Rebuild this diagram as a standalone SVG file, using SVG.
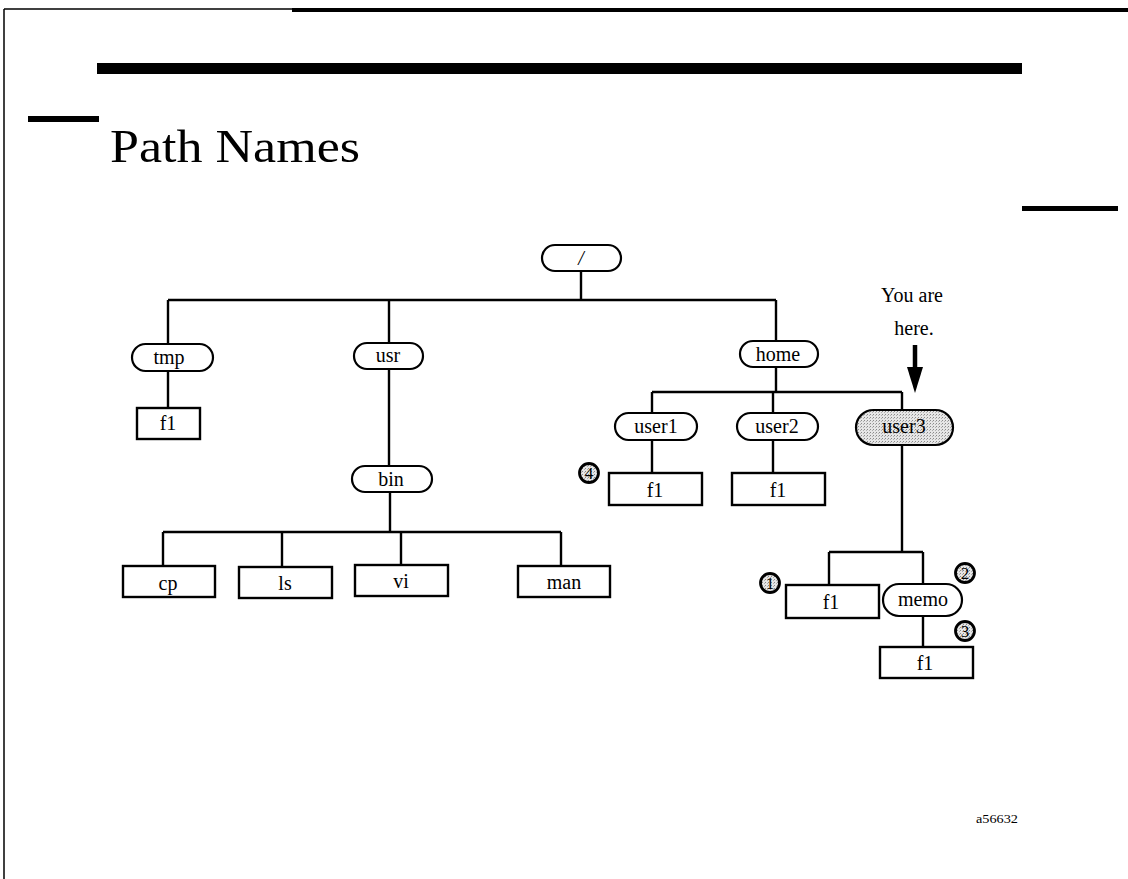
<svg xmlns="http://www.w3.org/2000/svg" width="1128" height="879" viewBox="0 0 1128 879">
  <defs>
    <pattern id="stipple" width="3" height="3" patternUnits="userSpaceOnUse">
      <rect width="3" height="3" fill="#e6e6e6"/>
      <rect x="0" y="0" width="1" height="1" fill="#8a8a8a"/>
      <rect x="2" y="1" width="1" height="1" fill="#b0b0b0"/>
    </pattern>
    <style>
      .pill { fill: #fff; stroke: #000; stroke-width: 2.2; }
      .box { fill: #fff; stroke: #000; stroke-width: 2.4; }
      .here { fill: url(#stipple); stroke: #000; stroke-width: 2.2; }
      .lbl { font-family: "Liberation Serif", "Times New Roman", serif; font-size: 20px; fill: #000; text-anchor: middle; }
      .num { font-family: "Liberation Serif", "Times New Roman", serif; font-size: 17px; fill: #000; text-anchor: middle; }
      .badge { fill: url(#stipple); stroke: #000; stroke-width: 2.8; }
      .wire { fill: none; stroke: #000; stroke-width: 2.4; }
    </style>
  </defs>
  <rect width="1128" height="879" fill="#fff"/>

  <!-- page frame and header rules -->
  <g id="frame">
    <line x1="4" y1="9" x2="4" y2="879" stroke="#000" stroke-width="1.5"/>
    <line x1="4" y1="9" x2="292" y2="9" stroke="#000" stroke-width="1.5"/>
    <rect x="292" y="8" width="836" height="4" fill="#000"/>
    <rect x="97" y="63" width="925" height="11" fill="#000"/>
    <rect x="28" y="116" width="71" height="6" fill="#000"/>
    <rect x="1022" y="206" width="96" height="5" fill="#000"/>
    <text x="110" y="162" font-family="Liberation Serif, Times New Roman, serif" font-size="46" textLength="250" lengthAdjust="spacingAndGlyphs">Path Names</text>
  </g>

  <!-- tree connectors -->
  <g id="connectors" class="wire">
    <path d="M581 271 V300 M168 300 H776 M168 300 V344 M168 371 V408"/>
    <path d="M389 300 V343 M389 369 V466 M390 492 V532 M163 532 H561 M163 532 V566 M282 532 V566 M401 532 V566 M561 532 V566"/>
    <path d="M776 300 V341 M776 367 V392 M652 392 H902 M652 392 V413 M773 392 V413 M902 392 V410 M652 440 V473 M773 440 V473"/>
    <path d="M902 445 V552 M829 552 H923 M829 552 V585 M923 552 V584 M923 616 V647"/>
  </g>

  <!-- "You are here." pointer -->
  <g id="pointer">
    <text class="lbl" x="912" y="302" font-size="18">You are</text>
    <text class="lbl" x="914" y="335" font-size="18">here.</text>
    <line x1="915" y1="345" x2="915" y2="370" stroke="#000" stroke-width="4.5"/>
    <polygon points="907,367 923,367 915,393" fill="#000"/>
  </g>

  <g id="node-root">
    <rect class="pill" x="542" y="245" width="79" height="26" rx="13"/>
    <text class="lbl" x="581" y="265" font-family="Liberation Sans, Arial, sans-serif" font-style="italic">/</text>
  </g>
  <g id="node-tmp">
    <rect class="pill" x="132" y="344" width="81" height="27" rx="13.5"/>
    <text class="lbl" x="169" y="364">tmp</text>
  </g>
  <g id="node-tmp-f1">
    <rect class="box" x="137" y="408" width="63" height="31"/>
    <text class="lbl" x="168" y="430">f1</text>
  </g>
  <g id="node-usr">
    <rect class="pill" x="354" y="343" width="69" height="26" rx="13"/>
    <text class="lbl" x="388" y="362">usr</text>
  </g>
  <g id="node-bin">
    <rect class="pill" x="352" y="466" width="80" height="26" rx="13"/>
    <text class="lbl" x="391" y="486">bin</text>
  </g>
  <g id="node-cp">
    <rect class="box" x="123" y="566" width="92" height="31"/>
    <text class="lbl" x="168" y="590">cp</text>
  </g>
  <g id="node-ls">
    <rect class="box" x="239" y="567" width="93" height="31"/>
    <text class="lbl" x="285" y="590">ls</text>
  </g>
  <g id="node-vi">
    <rect class="box" x="355" y="565" width="93" height="31"/>
    <text class="lbl" x="401" y="588">vi</text>
  </g>
  <g id="node-man">
    <rect class="box" x="518" y="566" width="92" height="31"/>
    <text class="lbl" x="564" y="589">man</text>
  </g>
  <g id="node-home">
    <rect class="pill" x="740" y="341" width="78" height="26" rx="13"/>
    <text class="lbl" x="778" y="361">home</text>
  </g>
  <g id="node-user1">
    <rect class="pill" x="615" y="413" width="82" height="27" rx="13.5"/>
    <text class="lbl" x="656" y="433">user1</text>
  </g>
  <g id="node-user2">
    <rect class="pill" x="737" y="413" width="81" height="27" rx="13.5"/>
    <text class="lbl" x="777" y="433">user2</text>
  </g>
  <g id="node-user3">
    <rect class="here" x="856" y="410" width="97" height="35" rx="17.5"/>
    <text class="lbl" x="904" y="433" font-size="16">user3</text>
  </g>
  <g id="node-user1-f1">
    <rect class="box" x="609" y="473" width="93" height="32"/>
    <text class="lbl" x="655" y="497">f1</text>
  </g>
  <g id="node-user2-f1">
    <rect class="box" x="732" y="473" width="93" height="32"/>
    <text class="lbl" x="778" y="497">f1</text>
  </g>
  <g id="node-user3-f1">
    <rect class="box" x="786" y="585" width="93" height="33"/>
    <text class="lbl" x="831" y="609">f1</text>
  </g>
  <g id="node-memo">
    <rect class="pill" x="883" y="584" width="79" height="32" rx="16"/>
    <text class="lbl" x="923" y="606">memo</text>
  </g>
  <g id="node-memo-f1">
    <rect class="box" x="880" y="647" width="93" height="31"/>
    <text class="lbl" x="925" y="670">f1</text>
  </g>

  <!-- numbered markers -->
  <g id="marker-1">
    <circle class="badge" cx="770" cy="583" r="9.5"/>
    <text class="num" x="770" y="589">1</text>
  </g>
  <g id="marker-2">
    <circle class="badge" cx="965" cy="573" r="9.5"/>
    <text class="num" x="965" y="579">2</text>
  </g>
  <g id="marker-3">
    <circle class="badge" cx="965" cy="631" r="9.5"/>
    <text class="num" x="965" y="637">3</text>
  </g>
  <g id="marker-4">
    <circle class="badge" cx="589" cy="473" r="9.5"/>
    <text class="num" x="589" y="479">4</text>
  </g>

  <text x="976" y="823" font-family="Liberation Serif, Times New Roman, serif" font-size="13" textLength="42" lengthAdjust="spacingAndGlyphs">a56632</text>
</svg>
